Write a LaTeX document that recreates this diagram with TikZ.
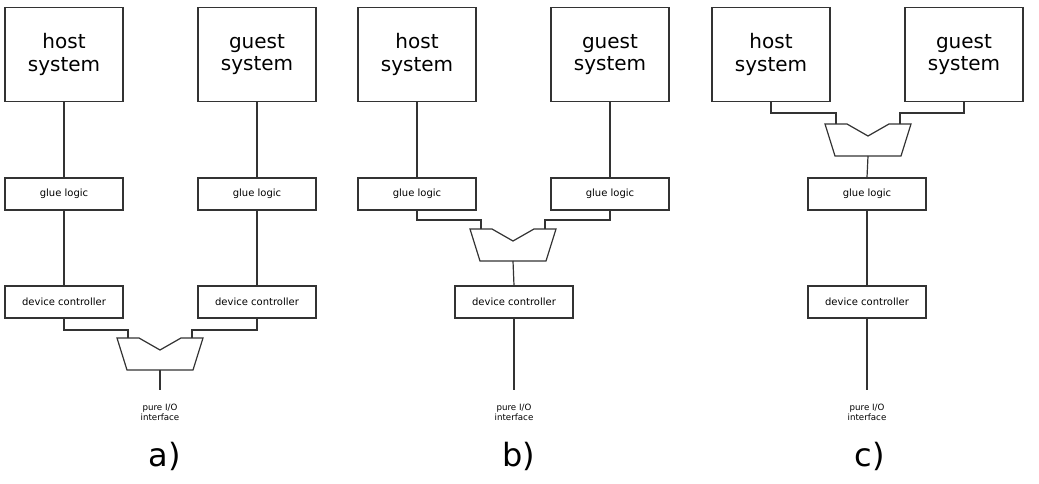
\documentclass[tikz,border=0pt]{standalone}
\usepackage{fontspec}
\setmainfont{DejaVu Sans}
\begin{document}
\begin{tikzpicture}[x=0.75pt,y=-0.75pt,line width=0.9pt,draw=black!80,
  big/.style={draw=black!80,minimum width=88.5pt,minimum height=71pt,font=\fontsize{15}{17}\selectfont,align=center,inner sep=0pt},
  sm/.style={draw=black!80,minimum width=88.5pt,minimum height=24pt,font=\fontsize{7.5}{9}\selectfont,inner sep=0pt},
  lab/.style={font=\fontsize{6.5}{7.5}\selectfont,align=center},
  let/.style={font=\fontsize{24}{28}\selectfont},
  mux/.pic={\draw[black!80] (-43,0)--(-21,0)--(0,12)--(21,0)--(43,0)--(33,32)--(-33,32)--cycle;
    \coordinate (-l) at (-32,0); \coordinate (-r) at (32,0); \coordinate (-o) at (0,32);}]
\useasboundingbox (0,0) rectangle (1039,483);
% panel a
\node[big] (ha) at (64,54.5) {host\\system};
\node[big] (ga) at (257,54.5) {guest\\system};
\node[sm] (gla) at (64,194) {glue logic};
\node[sm] (gla2) at (257,194) {glue logic};
\node[sm] (da) at (64,302) {device controller};
\node[sm] (da2) at (257,302) {device controller};
\pic (ma) at (160,338) {mux};
\node[lab] (pa) at (160,412) {pure I/O\\interface};
\node[let] (la) at (165,456) {a)};
\draw (ha)--(gla) (gla)--(da) (ga)--(gla2) (gla2)--(da2);
\draw (da.south) |- (64,330) -| (ma-l);
\draw (da2.south) |- (257,330) -| (ma-r);
\draw (ma-o) -- (160,390);
% panel b
\node[big] (hb) at (417,54.5) {host\\system};
\node[big] (gb) at (610,54.5) {guest\\system};
\node[sm] (glb) at (417,194) {glue logic};
\node[sm] (glb2) at (610,194) {glue logic};
\pic (mb) at (513,229) {mux};
\node[sm] (db) at (514,302) {device controller};
\node[lab] (pb) at (514,412) {pure I/O\\interface};
\node[let] (lb) at (519,456) {b)};
\draw (hb)--(glb) (gb)--(glb2);
\draw (glb.south) |- (417,220) -| (mb-l);
\draw (glb2.south) |- (610,220) -| (mb-r);
\draw (mb-o) -- (db.north);
\draw (db.south) -- (514,390);
% panel c
\node[big] (hc) at (771,54.5) {host\\system};
\node[big] (gc) at (964,54.5) {guest\\system};
\pic (mc) at (868,124) {mux};
\node[sm] (glc) at (867,194) {glue logic};
\node[sm] (dc) at (867,302) {device controller};
\node[lab] (pc) at (867,412) {pure I/O\\interface};
\node[let] (lc) at (870,456) {c)};
\draw (hc.south) |- (771,113) -| (mc-l);
\draw (gc.south) |- (964,113) -| (mc-r);
\draw (mc-o) -- (glc.north);
\draw (glc)--(dc) (dc.south)--(867,390);
\end{tikzpicture}
\end{document}
